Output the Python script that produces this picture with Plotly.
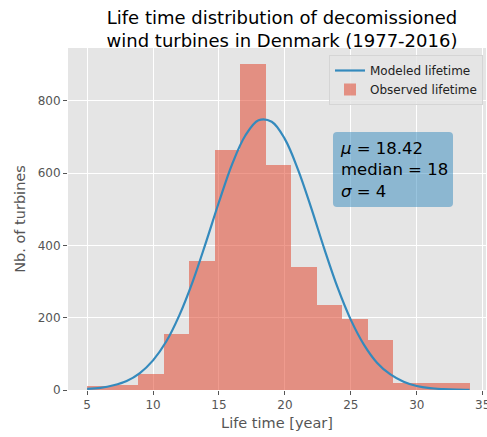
import plotly.graph_objects as go

# Histogram: 15 bins from 5 to 34
bin_edges = [5, 6.933, 8.867, 10.8, 12.733, 14.667, 16.6, 18.533, 20.467, 22.4,
             24.333, 26.267, 28.2, 30.133, 32.067, 34]
observed_counts = [12, 15, 45, 156, 358, 664, 901, 622, 339, 235, 197, 138, 20, 20, 20]

# Modeled lifetime curve
model_years = list(range(5, 35))
model_values = [3, 6, 13, 25, 47, 82, 134, 207, 299, 407, 520, 625, 704, 746, 742,
                694, 609, 503, 389, 283, 194, 125, 75, 43, 23, 11, 5, 2.4, 1, 0.4]

x_ticks = [5, 10, 15, 20, 25, 30, 35]
y_ticks = [0, 200, 400, 600, 800]

centers = [(bin_edges[i] + bin_edges[i + 1]) / 2 for i in range(len(observed_counts))]
widths = [bin_edges[i + 1] - bin_edges[i] for i in range(len(observed_counts))]

W, H = 487, 437
ML, MR, MT, MB = 68, 1, 48, 47
PW, PH = W - ML - MR, H - MT - MB

fig = go.Figure()
fig.add_trace(go.Bar(
    x=centers, y=observed_counts, width=widths,
    marker=dict(color="#E24A33", line=dict(width=0)), opacity=0.55,
    name="Observed lifetime", legendrank=2,
))
fig.add_trace(go.Scatter(
    x=model_years, y=model_values, mode="lines", line_shape="spline",
    line=dict(color="#348ABD", width=2.2),
    name="Modeled lifetime", legendrank=1,
))

def px2paper(x, y):
    return (x - ML) / PW, (H - MB - y) / PH

bx0, by0, bx1, by1, r = 333, 132, 453, 207, 4
def P(x, y):
    px, py = px2paper(x, y)
    return f"{px:.5f},{py:.5f}"
path = (f"M {P(bx0 + r, by0)} L {P(bx1 - r, by0)} Q {P(bx1, by0)} {P(bx1, by0 + r)} "
        f"L {P(bx1, by1 - r)} Q {P(bx1, by1)} {P(bx1 - r, by1)} "
        f"L {P(bx0 + r, by1)} Q {P(bx0, by1)} {P(bx0, by1 - r)} "
        f"L {P(bx0, by0 + r)} Q {P(bx0, by0)} {P(bx0 + r, by0)} Z")

font_family = "DejaVu Sans"
tx, ty = px2paper(338, 170)
fig.update_layout(
    width=W, height=H,
    margin=dict(l=ML, r=MR, t=MT, b=MB, autoexpand=False),
    paper_bgcolor="white", plot_bgcolor="#E5E5E5",
    font=dict(family=font_family, color="#555555", size=12),
    title=dict(text="Life time distribution of decomissioned<br>wind turbines in Denmark (1977-2016)",
               x=282 / W, xanchor="center", y=1 - 24 / H, yanchor="top",
               font=dict(size=18, color="black", family=font_family)),
    bargap=0,
    showlegend=True,
    legend=dict(x=(483 - ML) / PW, xanchor="right", y=(H - MB - 55) / PH, yanchor="top",
                bgcolor="rgba(229,229,229,0.8)", bordercolor="#D5D5D5", borderwidth=1,
                font=dict(size=12, color="#222222", family=font_family),
                tracegroupgap=0, itemwidth=30),
    xaxis=dict(range=[3.55, 35.25], tickvals=x_ticks, ticks="outside", ticklen=4,
               tickcolor="#555555", showgrid=True, gridcolor="white", gridwidth=1,
               zeroline=False, showline=False, ticklabeloverflow="allow", automargin=False,
               title=dict(text="Life time [year]", font=dict(size=14.5, color="#555555"), standoff=6),
               tickfont=dict(size=12, color="#555555")),
    yaxis=dict(range=[0, 946], tickvals=y_ticks, ticks="outside", ticklen=4,
               tickcolor="#555555", showgrid=True, gridcolor="white", gridwidth=1,
               zeroline=False, showline=False, automargin=False,
               title=dict(text="Nb. of turbines", font=dict(size=14.5, color="#555555"), standoff=8),
               tickfont=dict(size=12, color="#555555")),
    shapes=[dict(type="path", xref="paper", yref="paper", path=path,
                 fillcolor="rgba(52,138,189,0.5)", line=dict(width=0), layer="above")],
    annotations=[dict(
        x=tx, y=ty, xref="paper", yref="paper", xanchor="left", yanchor="middle",
        text="<i>μ</i> = 18.42<br>median = 18<br><i>σ</i> = 4", align="left", showarrow=False,
        font=dict(size=16.5, color="black", family=font_family),
    )],
)

fig.write_html("out.html", config={"displayModeBar": False},
               post_script="document.body.style.margin='0';")
